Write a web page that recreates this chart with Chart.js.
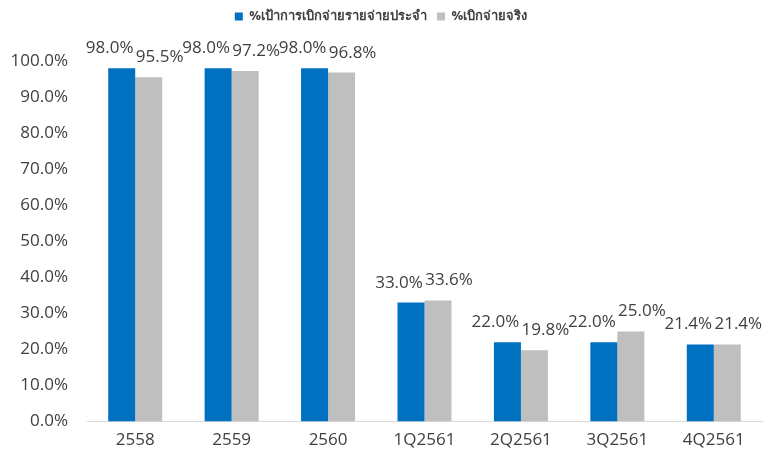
<!DOCTYPE html>
<html>
<head>
<meta charset="utf-8">
<script src="https://cdn.jsdelivr.net/npm/chart.js@4.4.1/dist/chart.umd.min.js"></script>
<style>
  html, body { margin: 0; padding: 0; background: #fff; }
  #wrap { width: 768px; height: 459px; }
</style>
</head>
<body>
<div id="wrap"><canvas id="budgetChart"></canvas></div>
<script>
// periods and disbursement percentages
const periods = ['2558', '2559', '2560', '1Q2561', '2Q2561', '3Q2561', '4Q2561'];
const targetPct = [98.0, 98.0, 98.0, 33.0, 22.0, 22.0, 21.4];
const actualPct = [95.5, 97.2, 96.8, 33.6, 19.8, 25.0, 21.4];
const seriesNames = ['%เป้าการเบิกจ่ายรายจ่ายประจำ', '%เบิกจ่ายจริง'];

const fontFam = '"Open Sans", "Noto Sans", sans-serif';

// value labels above each bar, nudged apart so neighbours don't collide
const valueLabels = {
    id: 'valueLabels',
    afterDatasetsDraw(chart) {
        const ctx = chart.ctx;
        const shift = [-12, 11];
        ctx.save();
        ctx.font = '17px ' + fontFam;
        ctx.fillStyle = '#404040';
        ctx.textAlign = 'center';
        ctx.textBaseline = 'alphabetic';
        chart.data.datasets.forEach((ds, i) => {
            chart.getDatasetMeta(i).data.forEach((bar, j) => {
                ctx.fillText(ds.data[j].toFixed(1) + '%', bar.x + shift[i], bar.y - 15);
            });
        });
        ctx.restore();
    }
};

// make room under the legend
const legendGap = {
    id: 'legendGap',
    beforeInit(chart) {
        const fit = chart.legend.fit;
        chart.legend.fit = function() {
            fit.bind(chart.legend)();
            this.height += 28;
        };
    }
};

const ctx = document.getElementById('budgetChart').getContext('2d');
const chart = new Chart(ctx, {
    type: 'bar',
    data: {
        labels: periods,
        datasets: [
            { label: seriesNames[0], data: targetPct, backgroundColor: '#0070C0' },
            { label: seriesNames[1], data: actualPct, backgroundColor: '#BFBFBF' }
        ]
    },
    options: {
        responsive: true,
        maintainAspectRatio: false,
        animation: false,
        layout: { padding: { left: 0, right: 6, top: 0, bottom: 9 } },
        datasets: {
            bar: { categoryPercentage: 0.56, barPercentage: 1.0 }
        },
        plugins: {
            legend: {
                position: 'top',
                labels: {
                    boxWidth: 8,
                    boxHeight: 8,
                    padding: 10,
                    color: '#404040',
                    font: { family: fontFam, size: 13, weight: 'bold' }
                }
            },
            tooltip: { enabled: false }
        },
        scales: {
            x: {
                grid: { display: false },
                border: { color: '#D9D9D9', width: 1 },
                ticks: {
                    color: '#404040',
                    padding: 0,
                    font: { family: fontFam, size: 17 }
                }
            },
            y: {
                min: 0,
                max: 100,
                grid: { display: false },
                border: { display: false },
                ticks: {
                    stepSize: 10,
                    padding: 11,
                    color: '#404040',
                    font: { family: fontFam, size: 17 },
                    callback: v => v.toFixed(1) + '%'
                },
                afterFit(scale) { scale.width = 87; }
            }
        }
    },
    plugins: [valueLabels, legendGap]
});
</script>
</body>
</html>
